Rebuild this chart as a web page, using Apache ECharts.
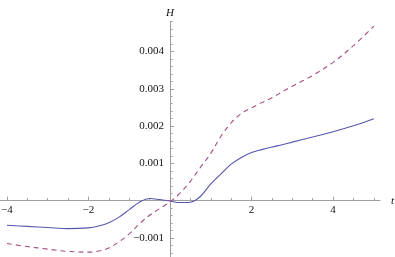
<!DOCTYPE html>
<html>
<head>
<meta charset="utf-8">
<script src="https://cdn.jsdelivr.net/npm/echarts@6/dist/echarts.min.js"></script>
<style>html,body{margin:0;padding:0;background:#fff}#c{width:395px;height:257px}</style>
</head>
<body>
<div id="c"></div>
<script>
var tValues = [-4,-3.5,-3,-2.5,-2,-1.75,-1.5,-1.25,-1,-0.75,-0.5,-0.25,0,0.25,0.5,0.75,1,1.25,1.5,1.75,2,2.25,2.5,2.75,3,3.5,4,4.5,5];
var solidValues = [-0.00066,-0.00069,-0.00072,-0.00075,-0.00073,-0.00068,-0.00059,-0.00044,-0.00024,-0.00004,0.00006,0.00003,-0.00001,-0.00005,-0.00004,0.00012,0.00045,0.00072,0.00098,0.00116,0.00129,0.00137,0.00144,0.0015,0.00157,0.00171,0.00185,0.00201,0.0022];
var dashedValues = [-0.00115,-0.00123,-0.0013,-0.00136,-0.00138,-0.00135,-0.00127,-0.0011,-0.00089,-0.00062,-0.00039,-0.00021,-0.00003,0.00021,0.00052,0.0009,0.00127,0.00173,0.00209,0.00234,0.00249,0.00263,0.00276,0.00292,0.00307,0.00336,0.00371,0.00416,0.00468];
var xMajorTicks = [-4,-2,2,4];
var xMinorTicks = [-3.5,-3,-2.5,-1.5,-1,-0.5,0.5,1,1.5,2.5,3,3.5,4.5,5];
var yMajorTicks = [-0.001,0.001,0.002,0.003,0.004];
var yMinorTicks = [-0.0014,-0.0012,-0.0008,-0.0006,-0.0004,-0.0002,0.0002,0.0004,0.0006,0.0008,0.0012,0.0014,0.0016,0.0018,0.0022,0.0024,0.0026,0.0028,0.0032,0.0034,0.0036,0.0038,0.0042,0.0044,0.0046,0.0048];

function zip(xs, ys){ return xs.map(function(x,i){ return [x, ys[i]]; }); }
var axisColor = '#a0a0a0';
var font = "'Liberation Serif', 'DejaVu Serif', serif";
var textColor = '#111';
function fmtX(v){ return String(v).replace('-', '\u2212'); }
function fmtY(v){ return Number(v).toFixed(3).replace('-', '\u2212'); }

var X_MIN = -4.17, X_MAX = 5.15, Y_MIN = -0.00151, Y_MAX = 0.0048;
var GRID = {left: 0, top: 21.7, width: 380, height: 235.3};
// place axes at the zero crossing via offsets (Mathematica-style axes)
var xOffset = -(0 - Y_MIN) / (Y_MAX - Y_MIN) * GRID.height;
var yOffset = -(0 - X_MIN) / (X_MAX - X_MIN) * GRID.width;

var chart = echarts.init(document.getElementById('c'), null, {renderer:'canvas'});
chart.setOption({
  animation: false,
  backgroundColor: '#fff',
  grid: {left: GRID.left, top: GRID.top, width: GRID.width, height: GRID.height, containLabel: false, outerBoundsMode: 'none'},
  xAxis: [{
    type: 'value', min: X_MIN, max: X_MAX, position: 'bottom', offset: xOffset,
    name: 't', nameLocation: 'end', nameGap: 11,
    nameTextStyle: {fontFamily: font, fontStyle: 'italic', fontSize: 11, color: textColor, verticalAlign: 'middle'},
    axisLine: {show: true, onZero: false, lineStyle: {color: axisColor, width: 1}},
    axisTick: {show: true, inside: true, length: 4, customValues: xMajorTicks, lineStyle: {color: axisColor}},
    axisLabel: {show: true, customValues: xMajorTicks, formatter: fmtX, fontFamily: font, fontSize: 11, color: textColor, margin: 4},
    splitLine: {show: false}
  },{
    type: 'value', min: X_MIN, max: X_MAX, position: 'bottom', offset: xOffset,
    axisLine: {show: false, onZero: false},
    axisTick: {show: true, inside: true, length: 2.5, customValues: xMinorTicks, lineStyle: {color: axisColor}},
    axisLabel: {show: false},
    splitLine: {show: false}
  }],
  yAxis: [{
    type: 'value', min: Y_MIN, max: Y_MAX, position: 'left', offset: yOffset,
    name: 'H', nameLocation: 'end', nameGap: 3,
    nameTextStyle: {fontFamily: font, fontStyle: 'italic', fontSize: 11, color: textColor},
    axisLine: {show: true, onZero: false, lineStyle: {color: axisColor, width: 1}},
    axisTick: {show: true, inside: true, length: 4, customValues: yMajorTicks, lineStyle: {color: axisColor}},
    axisLabel: {show: true, customValues: yMajorTicks, formatter: fmtY, fontFamily: font, fontSize: 11, color: textColor, margin: 6},
    splitLine: {show: false}
  },{
    type: 'value', min: Y_MIN, max: Y_MAX, position: 'left', offset: yOffset,
    axisLine: {show: false, onZero: false},
    axisTick: {show: true, inside: true, length: 2.5, customValues: yMinorTicks, lineStyle: {color: axisColor}},
    axisLabel: {show: false},
    splitLine: {show: false}
  }],
  series: [{
    type: 'line', xAxisIndex: 0, yAxisIndex: 0,
    data: zip(tValues, solidValues), smooth: 0.35, showSymbol: false,
    lineStyle: {color: '#5656ae', width: 1.1, type: 'solid'}
  },{
    type: 'line', xAxisIndex: 0, yAxisIndex: 0,
    data: zip(tValues, dashedValues), smooth: 0.35, showSymbol: false,
    lineStyle: {color: '#a54f80', width: 1.1, type: [5, 4]}
  }]
});
</script>
</body>
</html>
